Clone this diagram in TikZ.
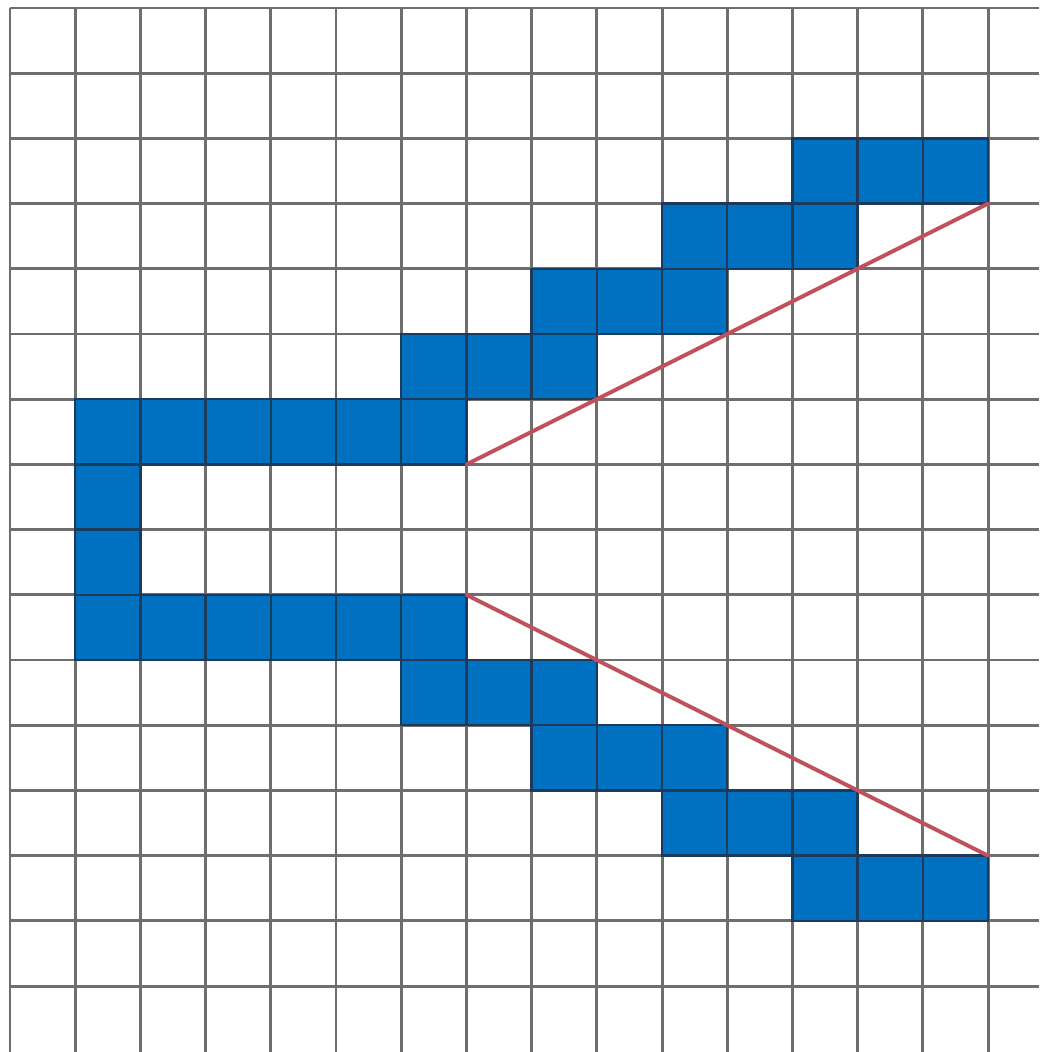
\documentclass[tikz,border=0pt]{standalone}
\definecolor{cellblue}{HTML}{0070C0}
\definecolor{celledge}{HTML}{1B3A5C}
\definecolor{gridgray}{HTML}{6E6E6E}
\definecolor{linered}{HTML}{C0505D}
\tikzset{
  gridline/.style={draw=gridgray, line width=1.7pt},
  bluecell/.style={fill=cellblue, draw=celledge, line width=1.3pt},
  redline/.style={draw=linered, line width=2.2pt, line cap=round}
}
\begin{document}
\begin{tikzpicture}[x=1.304cm, y=-1.304cm]
  % bounding box matching 1039x1052 px
  \useasboundingbox (-0.1534,-0.1227) rectangle (15.7822,16.0123);
  \fill[white] (-0.1534,-0.1227) rectangle (15.7822,16.0123);
  % grid
  \foreach \c in {0,...,15} \draw[gridline] (\c,0) -- (\c,16.0123);
  \foreach \r in {0,...,15} \draw[gridline] (0,\r) -- (15.7822,\r);
  % blue cells: row / list of columns
  \foreach \r/\cols in {2/{12,13,14}, 3/{10,11,12}, 4/{8,9,10}, 5/{6,7,8},
                        6/{1,2,3,4,5,6}, 7/{1}, 8/{1}, 9/{1,2,3,4,5,6},
                        10/{6,7,8}, 11/{8,9,10}, 12/{10,11,12}, 13/{12,13,14}}
    \foreach \c in \cols \draw[bluecell] (\c,\r) rectangle ++(1,1);
  % red lines
  \coordinate (ua) at (7,7);
  \coordinate (ub) at (15,3);
  \coordinate (la) at (7,9);
  \coordinate (lb) at (15,13);
  \draw[redline] (ua) -- (ub);
  \draw[redline] (la) -- (lb);
\end{tikzpicture}
\end{document}
